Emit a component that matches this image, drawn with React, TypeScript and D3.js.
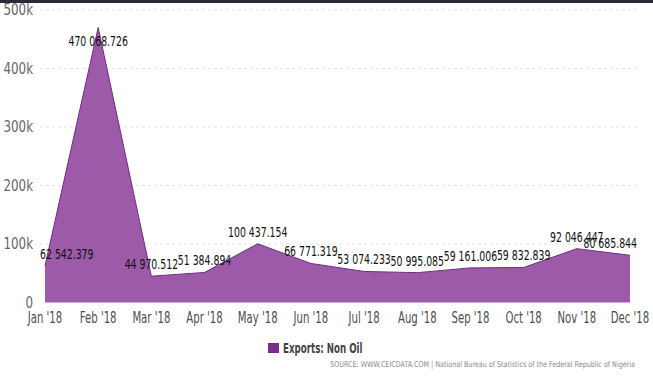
import React from "react";
import * as d3 from "d3";

const months = ["Jan '18", "Feb '18", "Mar '18", "Apr '18", "May '18", "Jun '18", "Jul '18", "Aug '18", "Sep '18", "Oct '18", "Nov '18", "Dec '18"];
const values = [62542.379, 470068.726, 44970.512, 51384.894, 100437.154, 66771.319, 53074.233, 50995.085, 59161.006, 59832.839, 92046.447, 80685.844];
const yTicks = [0, 100000, 200000, 300000, 400000, 500000];
const seriesName = "Exports: Non Oil";
const sourceText = "SOURCE: WWW.CEICDATA.COM | National Bureau of Statistics of the Federal Republic of Nigeria";

const W = 653, H = 379;
const plotL = 40, plotR = 640, plotT = 10, plotB = 302.5;
const FONT = "'DejaVu Sans Condensed', 'DejaVu Sans', sans-serif";

function fmt(v: number) {
  const [i, d] = v.toFixed(3).split(".");
  return i.replace(/\B(?=(\d{3})+(?!\d))/g, " ") + "." + d;
}

let ctx: CanvasRenderingContext2D | null = null;
function measure(t: string, size: number, weight = "normal") {
  if (!ctx) ctx = document.createElement("canvas").getContext("2d");
  if (!ctx) return t.length * size * 0.55;
  ctx.font = `${weight} ${size}px ${FONT}`;
  return ctx.measureText(t).width;
}

function CText(props: {
  x: number; y: number; sx: number; size: number; fill: string;
  anchor?: "start" | "middle" | "end"; weight?: string; dy?: string; children: string;
}) {
  const { x, y, sx, size, fill, anchor = "start", weight = "normal", dy, children } = props;
  return (
    <text
      transform={`translate(${x},${y}) scale(${sx},1)`}
      textAnchor={anchor}
      fontSize={size}
      fill={fill}
      fontWeight={weight}
      fontFamily={FONT}
      dy={dy}
    >
      {children}
    </text>
  );
}

export default function App() {
  const x = d3.scalePoint<string>().domain(months).range([45, 630]);
  const y = d3.scaleLinear().domain([0, 500000]).range([plotB, plotT]);
  const pts = months.map((m, i) => ({ m, v: values[i] }));
  const area = d3.area<{ m: string; v: number }>().x(d => x(d.m)!).y0(y(0)).y1(d => y(d.v));
  const line = d3.line<{ m: string; v: number }>().x(d => x(d.m)!).y(d => y(d.v));
  const fs = 13.5;
  const lsx = 0.77;

  return (
    <svg width={W} height={H} style={{ position: "absolute", left: 0, top: 0, background: "#fff" }}>
      <rect x={0} y={0} width={W} height={3} fill="#2b2a35" />
      {yTicks.map(t => (
        <g key={t}>
          {t > 0 && (
            <line x1={plotL} x2={plotR} y1={y(t)} y2={y(t)} stroke="#e3e3e3" strokeDasharray="3,3" />
          )}
          <CText x={33} y={y(t)} dy="0.35em" anchor="end" size={15} sx={0.88} fill="#666">
            {t === 0 ? "0" : `${t / 1000}k`}
          </CText>
        </g>
      ))}
      <path d={area(pts)!} fill="#9c5aa8" />
      <path d={line(pts)!} fill="none" stroke="#6e2f80" strokeWidth={1} />
      {months.map(m => (
        <CText key={m} x={x(m)!} y={323} anchor="middle" size={15} sx={0.75} fill="#4d4d4d">
          {m}
        </CText>
      ))}
      {pts.map(p => {
        const t = fmt(p.v);
        const w = measure(t, fs) * lsx;
        let cx = x(p.m)!;
        cx = Math.max(plotL + w / 2, Math.min(plotR - 3 - w / 2, cx));
        let by = y(p.v) - 7;
        if (by - 12 < plotT) by = y(p.v) + 18;
        return (
          <CText key={p.m} x={cx} y={by} anchor="middle" size={fs} sx={lsx} fill="#111">
            {t}
          </CText>
        );
      })}
      <rect x={268} y={343} width={11} height={10} fill="#7a2e8e" />
      <CText x={283} y={353} size={14} sx={0.69} weight="bold" fill="#444">
        {seriesName}
      </CText>
      <CText x={635} y={367} anchor="end" size={8} sx={0.89} fill="#8a8a8a">
        {sourceText}
      </CText>
    </svg>
  );
}
